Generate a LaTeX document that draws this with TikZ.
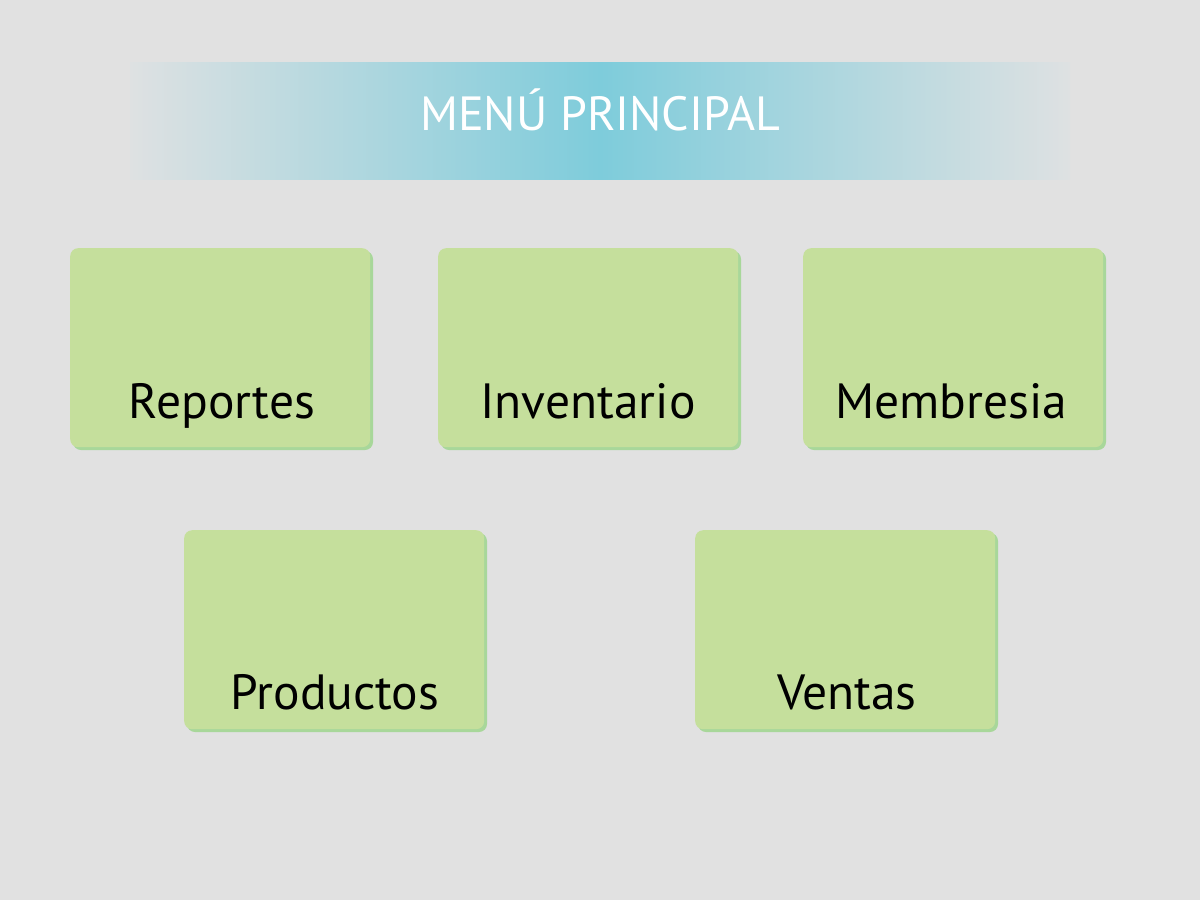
\documentclass[tikz,border=0pt]{standalone}
\usepackage{fontspec}
\setmainfont{PT Sans}
\definecolor{bg}{HTML}{E1E1E1}
\definecolor{bannerc}{HTML}{7ECCDB}
\definecolor{bannere}{HTML}{DEE1E2}
\definecolor{boxfill}{HTML}{C5DF9C}
\definecolor{boxshadow}{HTML}{A8D79A}
\begin{document}
\begin{tikzpicture}[x=1pt,y=-1pt,
  menubox/.style={draw=none,fill=boxfill,rounded corners=8pt,minimum width=300pt,minimum height=199pt,inner sep=0pt,anchor=north west},
  menushadow/.style={fill=boxshadow,rounded corners=8pt},
  menulabel/.style={font=\fontsize{49.5}{52}\selectfont,text=black,anchor=base,inner sep=0pt}]
\fill[bg] (0,0) rectangle (1200,900);
\useasboundingbox (0,0) rectangle (1200,900);
% banner
\shade[left color=bannere,right color=bannerc] (130,62) rectangle (600,179);
\shade[left color=bannerc,right color=bannere] (600,62) rectangle (1070,179);
\node[font=\fontsize{48}{50}\selectfont,text=white,anchor=base,inner sep=0pt] (title) at (600,130) {MENÚ PRINCIPAL};
% boxes
\foreach \n/\x/\y in {rep/70/248,inv/438/248,mem/803/248,pro/184/530,ven/695/530}{
  \fill[menushadow] (\x+3,\y+3) rectangle (\x+303,\y+202);
  \node[menubox] (\n) at (\x,\y) {};
}
\node[menulabel] (lrep) at (222,418) {Reportes};
\node[menulabel] (linv) at (588,418) {Inventario};
\node[menulabel] (lmem) at (951,418) {Membresia};
\node[menulabel] (lpro) at (335,709) {Productos};
\node[menulabel] (lven) at (847,709) {Ventas};
\end{tikzpicture}
\end{document}
